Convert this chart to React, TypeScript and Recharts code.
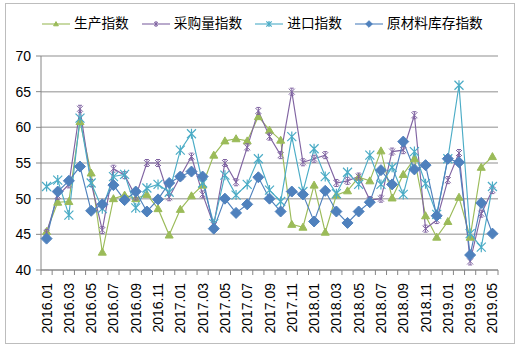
import { CartesianGrid, Legend, Line, LineChart, XAxis, YAxis } from 'recharts';

const months = [
  '2016.01', '2016.02', '2016.03', '2016.04', '2016.05', '2016.06', '2016.07', '2016.08', '2016.09', '2016.10', '2016.11', '2016.12',
  '2017.01', '2017.02', '2017.03', '2017.04', '2017.05', '2017.06', '2017.07', '2017.08', '2017.09', '2017.10', '2017.11', '2017.12',
  '2018.01', '2018.02', '2018.03', '2018.04', '2018.05', '2018.06', '2018.07', '2018.08', '2018.09', '2018.10', '2018.11', '2018.12',
  '2019.01', '2019.02', '2019.03', '2019.04', '2019.05',
];

const production = [
  45.4, 49.5, 49.6, 60.8, 53.6, 42.5, 50.0, 50.5, 50.0, 50.6, 48.6, 44.9,
  48.5, 50.4, 51.9, 56.1, 58.1, 58.4, 58.1, 61.5, 59.6, 58.2, 46.4, 46.0,
  51.9, 45.3, 50.5, 51.1, 53.0, 52.5, 56.7, 50.1, 53.4, 55.6, 47.6, 44.6,
  46.8, 50.2, 44.6, 54.4, 55.9,
];

const purchase = [
  45.2, 50.4, 52.0, 62.6, 52.2, 45.6, 54.2, 53.3, 50.3, 55.0, 55.0, 50.2,
  53.1, 55.9, 50.6, 46.3, 55.0, 52.3, 57.2, 62.3, 58.7, 56.1, 65.0, 55.1,
  55.6, 56.1, 52.2, 52.5, 53.1, 49.8, 50.0, 56.6, 56.8, 61.7, 45.8, 47.0,
  52.6, 56.4, 41.2, 47.9, 51.2,
];

const imports = [
  51.7, 52.6, 47.7, 61.3, 52.2, 48.6, 53.1, 53.4, 48.7, 51.5, 52.0, 50.9,
  56.8, 59.1, 52.2, 46.5, 53.3, 50.5, 52.0, 55.6, 51.2, 49.6, 58.7, 51.0,
  57.0, 53.1, 50.7, 53.7, 52.0, 56.1, 52.0, 54.4, 50.6, 56.6, 52.1, 47.8,
  55.6, 65.9, 45.1, 43.2, 51.7,
];

const inventory = [
  44.4, 51.0, 52.5, 54.5, 48.3, 49.2, 51.9, 49.8, 51.0, 48.2, 49.9, 52.2,
  53.1, 53.8, 53.1, 45.8, 50.0, 48.0, 49.2, 53.0, 50.0, 48.2, 51.0, 50.6,
  46.8, 51.1, 48.2, 46.6, 48.2, 49.5, 54.0, 52.0, 58.0, 54.1, 54.7, 47.6,
  55.6, 55.1, 42.1, 49.4, 45.1,
];

const yTicks = [40, 45, 50, 55, 60, 65, 70];

const data = months.map((month, i) => ({
  month,
  production: production[i],
  purchase: purchase[i],
  imports: imports[i],
  inventory: inventory[i],
}));

const W = 518;
const H = 352;
const MARGIN = { top: 56, right: 20, bottom: 0, left: 0 };
const Y_W = 41;
const X_H = 82;
const STEP = (W - MARGIN.left - MARGIN.right - Y_W) / months.length;

const GREEN = '#9BBB59';
const PURPLE = '#8064A2';
const CYAN = '#4BACC6';
const BLUE = '#4F81BD';
const AXIS = '#868686';
const FONT = '"Liberation Sans", Arial, "Noto Sans CJK SC", sans-serif';

type MarkProps = { cx: number; cy: number; s?: number };

const Triangle = ({ cx, cy, s = 1 }: MarkProps) => (
  <path d={`M${cx},${cy - 4 * s} L${cx + 4 * s},${cy + 3 * s} L${cx - 4 * s},${cy + 3 * s} Z`} fill={GREEN} stroke={GREEN} />
);

const SmallStar = ({ cx, cy, s = 1 }: MarkProps) => {
  const a = 3 * s;
  const b = 3.5 * s;
  const c = 2 * s;
  return (
    <path
      d={`M${cx - a},${cy - a} L${cx + a},${cy + a} M${cx + a},${cy - a} L${cx - a},${cy + a} M${cx},${cy - b} L${cx},${cy + b} M${cx - c},${cy - b} L${cx + c},${cy - b} M${cx - c},${cy + b} L${cx + c},${cy + b}`}
      stroke={PURPLE}
      strokeWidth={1}
      fill="none"
    />
  );
};

const BigStar = ({ cx, cy, s = 1 }: MarkProps) => {
  const a = 4.5 * s;
  const b = 5 * s;
  return (
    <path
      d={`M${cx - a},${cy - a} L${cx + a},${cy + a} M${cx + a},${cy - a} L${cx - a},${cy + a} M${cx},${cy - b} L${cx},${cy + b}`}
      stroke={CYAN}
      strokeWidth={1.2}
      fill="none"
    />
  );
};

const Diamond = ({ cx, cy, s = 1 }: MarkProps) => {
  const a = 5.5 * s;
  return <path d={`M${cx},${cy - a} L${cx + a},${cy} L${cx},${cy + a} L${cx - a},${cy} Z`} fill={BLUE} stroke={BLUE} />;
};

const dotOf = (Mark: (p: MarkProps) => any) => (props: any) => {
  const { cx, cy, index } = props;
  if (cx == null || cy == null) return <g key={`d-${index}`} />;
  return (
    <g key={`d-${index}`}>
      <Mark cx={cx} cy={cy} />
    </g>
  );
};

const legendItems = [
  { name: '生产指数', color: GREEN, Mark: Triangle },
  { name: '采购量指数', color: PURPLE, Mark: SmallStar },
  { name: '进口指数', color: CYAN, Mark: BigStar },
  { name: '原材料库存指数', color: BLUE, Mark: Diamond },
];

const LegendContent = () => (
  <div style={{ display: 'flex', alignItems: 'center', fontFamily: FONT, fontSize: 13.7, color: '#000' }}>
    {legendItems.map(({ name, color, Mark }) => (
      <div key={name} style={{ display: 'flex', alignItems: 'center', marginRight: 13 }}>
        <svg width={28} height={12} style={{ display: 'block' }}>
          <line x1={0} x2={28} y1={6} y2={6} stroke={color} strokeWidth={1.1} />
          <Mark cx={14} cy={6} s={0.6} />
        </svg>
        <span style={{ marginLeft: 4, lineHeight: '18px' }}>{name}</span>
      </div>
    ))}
  </div>
);

const MonthTick = (props: any) => {
  const { x, y, payload, index } = props;
  const half = STEP / 2;
  return (
    <g>
      <line x1={x - half} x2={x - half} y1={y} y2={y + 5} stroke={AXIS} />
      {index === months.length - 1 && <line x1={x + half} x2={x + half} y1={y} y2={y + 5} stroke={AXIS} />}
      {index % 2 === 0 && (
        <text
          x={x}
          y={y + 13}
          transform={`rotate(-90, ${x}, ${y + 13})`}
          textAnchor="end"
          dominantBaseline="central"
          fontSize={14}
          fontFamily={FONT}
          fill="#000"
        >
          {payload.value}
        </text>
      )}
    </g>
  );
};

function App() {
  return (
    <div style={{ position: 'absolute', left: 0, top: 0, width: W, height: H, background: '#fff' }}>
      <div
        style={{
          position: 'absolute',
          left: 5,
          top: 3,
          width: 508,
          height: 339,
          border: '1.5px solid #bdbdbd',
        }}
      />
      <LineChart width={W} height={H} data={data} margin={MARGIN}>
        <CartesianGrid vertical={false} stroke="#b4b4b4" strokeWidth={1.5} />
        <XAxis
          dataKey="month"
          scale="band"
          interval={0}
          height={X_H}
          tickSize={0}
          tickMargin={0}
          tickLine={false}
          axisLine={{ stroke: AXIS }}
          tick={<MonthTick />}
        />
        <YAxis
          width={Y_W}
          domain={[40, 70]}
          ticks={yTicks}
          interval={0}
          tickSize={5}
          tickMargin={5}
          axisLine={{ stroke: AXIS }}
          tickLine={{ stroke: AXIS }}
          tick={{ fontSize: 14, fill: '#000', fontFamily: FONT }}
        />
        <Legend
          layout="horizontal"
          verticalAlign="middle"
          align="center"
          wrapperStyle={{ top: 15, left: 42, width: 470 }}
          content={<LegendContent />}
        />
        <Line dataKey="production" name="生产指数" stroke={GREEN} strokeWidth={1.15} dot={dotOf(Triangle)} activeDot={false} isAnimationActive={false} />
        <Line dataKey="purchase" name="采购量指数" stroke={PURPLE} strokeWidth={1.15} dot={dotOf(SmallStar)} activeDot={false} isAnimationActive={false} />
        <Line dataKey="imports" name="进口指数" stroke={CYAN} strokeWidth={1.15} dot={dotOf(BigStar)} activeDot={false} isAnimationActive={false} />
        <Line dataKey="inventory" name="原材料库存指数" stroke={BLUE} strokeWidth={1.15} dot={dotOf(Diamond)} activeDot={false} isAnimationActive={false} />
      </LineChart>
    </div>
  );
}

export default App;
